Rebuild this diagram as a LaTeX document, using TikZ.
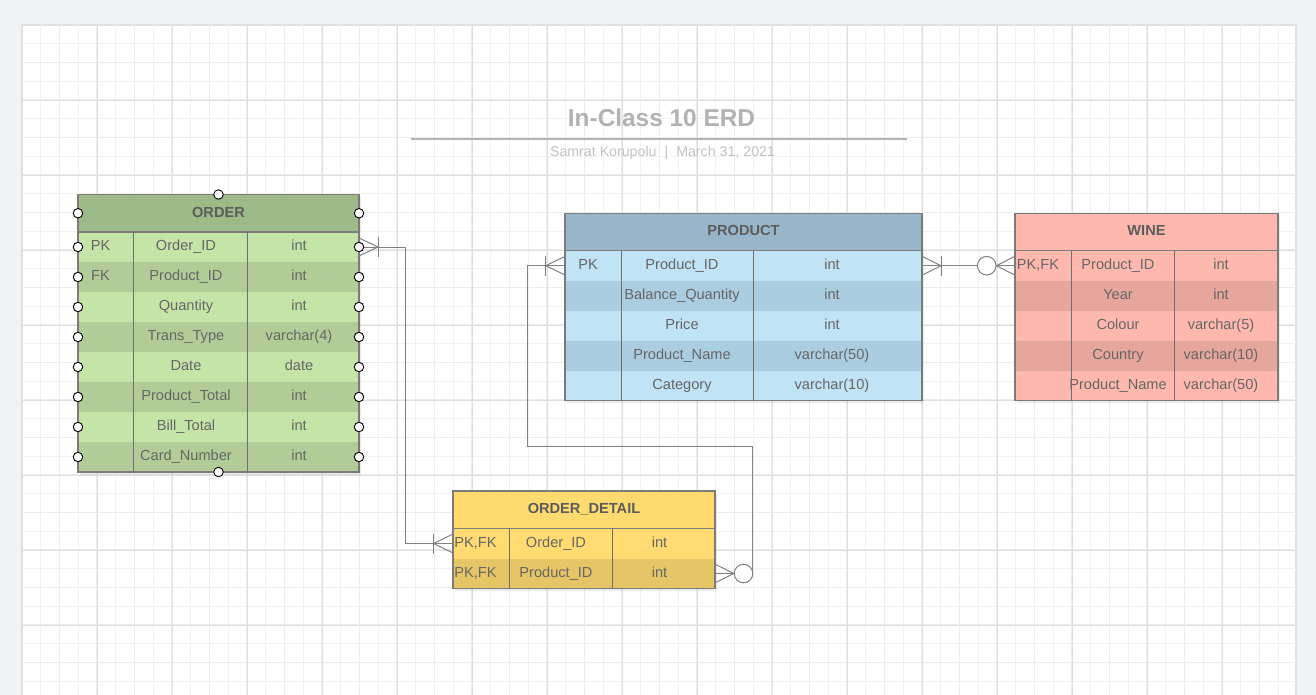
\documentclass[tikz,border=0pt]{standalone}
\usepackage{fontspec}
\setmainfont{Liberation Sans}
\usetikzlibrary{shadows}
\definecolor{outerbg}{HTML}{F1F2F4}
\definecolor{pageedge}{HTML}{E0E1E4}
\definecolor{gridminor}{HTML}{F2F2F2}
\definecolor{gridmid}{HTML}{EDEDED}
\definecolor{gridmajor}{HTML}{DFDFDF}
\definecolor{txtgrey}{HTML}{666666}
\definecolor{headgrey}{HTML}{5C5C5C}
\definecolor{linegrey}{HTML}{7B7B7B}
\definecolor{conngrey}{HTML}{808080}
\definecolor{ordhd}{HTML}{9DBA88}
\definecolor{ordlt}{HTML}{C5E5A8}
\definecolor{orddk}{HTML}{B1CC96}
\definecolor{prdhd}{HTML}{99B5C9}
\definecolor{prdlt}{HTML}{C0E3F5}
\definecolor{prddk}{HTML}{ABCDE1}
\definecolor{wnehd}{HTML}{FFB8AD}
\definecolor{wnelt}{HTML}{FFB8AD}
\definecolor{wnedk}{HTML}{E6A69C}
\definecolor{odthd}{HTML}{FFDA6F}
\definecolor{odtlt}{HTML}{FFDB72}
\definecolor{odtdk}{HTML}{E6C566}
\newcommand{\cellfont}{\fontsize{14.6}{17}\selectfont}
\tikzstyle{tshadow} = [drop shadow={shadow xshift=1.5pt, shadow yshift=-2.5pt, opacity=0.15}]
\tikzstyle{head} = [rectangle, minimum height=37.5pt, inner sep=0pt, outer sep=0pt, text=headgrey, font=\cellfont\bfseries, text height=10.5pt, text depth=3pt, tshadow]
\tikzstyle{row} = [rectangle, minimum height=30pt, inner sep=0pt, outer sep=0pt, tshadow]
\tikzstyle{cell} = [inner sep=0pt, text=txtgrey, font=\cellfont, text height=10.5pt, text depth=3pt]
\tikzstyle{tline} = [draw=linegrey, line width=1.1pt]
\tikzstyle{divider} = [draw=linegrey!90!black, line width=1pt]
\tikzstyle{conn} = [draw=conngrey, line width=1pt]
\tikzstyle{zerocirc} = [circle, draw=conngrey, fill=white, line width=1pt, minimum size=18.6pt, inner sep=0pt]
\tikzstyle{handle} = [circle, draw=black, fill=white, line width=0.9pt, minimum size=9.5pt, inner sep=0pt]

\begin{document}
\begin{tikzpicture}[x=1pt, y=-1pt]
	\useasboundingbox (0,0) rectangle (1316,695);
	\fill [outerbg] (0,0) rectangle (1316,695);
	\filldraw [fill=white, draw=pageedge, line width=1.5pt] (22,25) rectangle (1296,720);
	% grid
	\foreach \i in {1,...,67} \draw [gridminor, line width=0.8pt] (22+18.75*\i,25) -- (22+18.75*\i,695);
	\foreach \j in {1,...,35} \draw [gridminor, line width=0.8pt] (22,25+18.75*\j) -- (1296,25+18.75*\j);
	\foreach \i in {2,4,...,66} \draw [gridmid, line width=1.2pt] (22+18.75*\i,25) -- (22+18.75*\i,695);
	\foreach \j in {2,4,...,34} \draw [gridmid, line width=1.2pt] (22,25+18.75*\j) -- (1296,25+18.75*\j);
	\foreach \i in {4,8,...,64} \draw [gridmajor, line width=0.9pt] (22+18.75*\i,25) -- (22+18.75*\i,695);
	\foreach \j in {4,8,...,32} \draw [gridmajor, line width=0.9pt] (22,25+18.75*\j) -- (1296,25+18.75*\j);

	% title
	\node (title) [text=black!30, font=\fontsize{24.4}{28}\selectfont\bfseries] at (661.5,118) {In-Class 10 ERD};
	\draw [black!30, line width=2pt] (411,139) -- (907,139);
	\node (author) [text=black!24, font=\fontsize{14.2}{16}\selectfont] at (662.5,153) {Samrat Korupolu\hspace{8pt}|\hspace{8pt}March 31, 2021};

	% ORDER
	\node (ordh) [head, fill=ordhd, minimum width=281pt] at (218.5,213.25) {ORDER};
	\foreach \k/\n/\t/\c [count=\i] in {PK/Order\_ID/int/ordlt, FK/Product\_ID/int/orddk, /Quantity/int/ordlt, /Trans\_Type/varchar(4)/orddk, /Date/date/ordlt, /Product\_Total/int/orddk, /Bill\_Total/int/ordlt, /Card\_Number/int/orddk}
	{
		\node (ord\i) [row, fill=\c, minimum width=281pt] at (218.5,217+30*\i) {};
		\node (ordk\i) [cell] at (100.5,217+30*\i) {\k};
		\node (ordn\i) [cell] at (186,217+30*\i) {\n};
		\node (ordt\i) [cell] at (299,217+30*\i) {\t};
	}
	\draw [tline] (ordh.north west) rectangle (ord8.south east);
	\draw [tline] (ordh.south west) -- (ordh.south east);
	\draw [divider] ([xshift=55pt]ordh.south west) -- ([xshift=55pt]ord8.south west);
	\draw [divider] ([xshift=169pt]ordh.south west) -- ([xshift=169pt]ord8.south west);

	% PRODUCT
	\node (prdh) [head, fill=prdhd, minimum width=357pt] at (743.5,231.95) {PRODUCT};
	\foreach \k/\n/\t/\c [count=\i] in {PK/Product\_ID/int/prdlt, /Balance\_Quantity/int/prddk, /Price/int/prdlt, /Product\_Name/varchar(50)/prddk, /Category/varchar(10)/prdlt}
	{
		\node (prd\i) [row, fill=\c, minimum width=357pt] at (743.5,235.7+30*\i) {};
		\node (prdk\i) [cell] at (588,235.7+30*\i) {\k};
		\node (prdn\i) [cell] at (682,235.7+30*\i) {\n};
		\node (prdt\i) [cell] at (832,235.7+30*\i) {\t};
	}
	\draw [tline] (prdh.north west) rectangle (prd5.south east);
	\draw [tline] (prdh.south west) -- (prdh.south east);
	\draw [divider] ([xshift=56pt]prdh.south west) -- ([xshift=56pt]prd5.south west);
	\draw [divider] ([xshift=188pt]prdh.south west) -- ([xshift=188pt]prd5.south west);

	% WINE
	\node (wneh) [head, fill=wnehd, minimum width=263pt] at (1146.5,231.95) {WINE};
	\foreach \k/\n/\t/\c [count=\i] in {{PK,FK}/Product\_ID/int/wnelt, /Year/int/wnedk, /Colour/varchar(5)/wnelt, /Country/varchar(10)/wnedk, /Product\_Name/varchar(50)/wnelt}
	{
		\node (wne\i) [row, fill=\c, minimum width=263pt] at (1146.5,235.7+30*\i) {};
		\node (wnek\i) [cell] at (1038,235.7+30*\i) {\k};
		\node (wnen\i) [cell] at (1118,235.7+30*\i) {\n};
		\node (wnet\i) [cell] at (1221,235.7+30*\i) {\t};
	}
	\draw [tline] (wneh.north west) rectangle (wne5.south east);
	\draw [tline] (wneh.south west) -- (wneh.south east);
	\draw [divider] ([xshift=56pt]wneh.south west) -- ([xshift=56pt]wne5.south west);
	\draw [divider] ([xshift=159pt]wneh.south west) -- ([xshift=159pt]wne5.south west);

	% ORDER_DETAIL
	\node (odth) [head, fill=odthd, minimum width=262pt] at (584,509.75) {ORDER\_DETAIL};
	\foreach \k/\n/\t/\c [count=\i] in {{PK,FK}/Order\_ID/int/odtlt, {PK,FK}/Product\_ID/int/odtdk}
	{
		\node (odt\i) [row, fill=\c, minimum width=262pt] at (584,513.5+30*\i) {};
		\node (odtk\i) [cell] at (475.5,513.5+30*\i) {\k};
		\node (odtn\i) [cell] at (556,513.5+30*\i) {\n};
		\node (odtt\i) [cell] at (659.5,513.5+30*\i) {\t};
	}
	\draw [tline] (odth.north west) rectangle (odt2.south east);
	\draw [tline] (odth.south west) -- (odth.south east);
	\draw [divider] ([xshift=56pt]odth.south west) -- ([xshift=56pt]odt2.south west);
	\draw [divider] ([xshift=159pt]odth.south west) -- ([xshift=159pt]odt2.south west);

	% ORDER -- ORDER_DETAIL
	\draw [conn] (ord1.east) -- ++(46.5,0) |- (odt1.west);
	\draw [conn] ([yshift=9pt]ord1.east) -- ([xshift=19pt]ord1.east) -- ([yshift=-9pt]ord1.east);
	\draw [conn] ([xshift=19pt,yshift=10pt]ord1.east) -- ([xshift=19pt,yshift=-10pt]ord1.east);
	\draw [conn] ([yshift=9.5pt]odt1.west) -- ([xshift=-19.5pt]odt1.west) -- ([yshift=-9.5pt]odt1.west);
	\draw [conn] ([xshift=-19.5pt,yshift=10pt]odt1.west) -- ([xshift=-19.5pt,yshift=-10pt]odt1.west);

	% PRODUCT -- ORDER_DETAIL
	\coordinate (prdloop) at (752.8,446);
	\draw [conn] (prd1.west) -- ++(-37.5,0) |- (prdloop) |- (odt2.east);
	\draw [conn] ([yshift=9.3pt]prd1.west) -- ([xshift=-19.3pt]prd1.west) -- ([yshift=-9.3pt]prd1.west);
	\draw [conn] ([xshift=-19.3pt,yshift=10pt]prd1.west) -- ([xshift=-19.3pt,yshift=-10pt]prd1.west);
	\node (odtzero) [zerocirc] at ([xshift=28.5pt]odt2.east) {};
	\draw [conn] ([yshift=9.3pt]odt2.east) -- (odtzero.west) -- ([yshift=-9.3pt]odt2.east);

	% PRODUCT -- WINE
	\draw [conn] (prd1.east) -- (wne1.west);
	\draw [conn] ([yshift=9.5pt]prd1.east) -- ([xshift=19pt]prd1.east) -- ([yshift=-9.5pt]prd1.east);
	\draw [conn] ([xshift=19pt,yshift=10pt]prd1.east) -- ([xshift=19pt,yshift=-10pt]prd1.east);
	\node (wnezero) [zerocirc] at ([xshift=-28.3pt]wne1.west) {};
	\draw [conn] ([yshift=9.5pt]wne1.west) -- (wnezero.east) -- ([yshift=-9.5pt]wne1.west);

	% handles
	\node (ordhl) [handle] at (ordh.west) {};
	\node (ordhr) [handle] at (ordh.east) {};
	\node (ordtop) [handle] at (ordh.north) {};
	\node (ordbot) [handle] at (ord8.south) {};
	\foreach \i in {1,...,8}
	{
		\node (ordl\i) [handle] at (ord\i.west) {};
		\node (ordr\i) [handle] at (ord\i.east) {};
	}
\end{tikzpicture}
\end{document}
